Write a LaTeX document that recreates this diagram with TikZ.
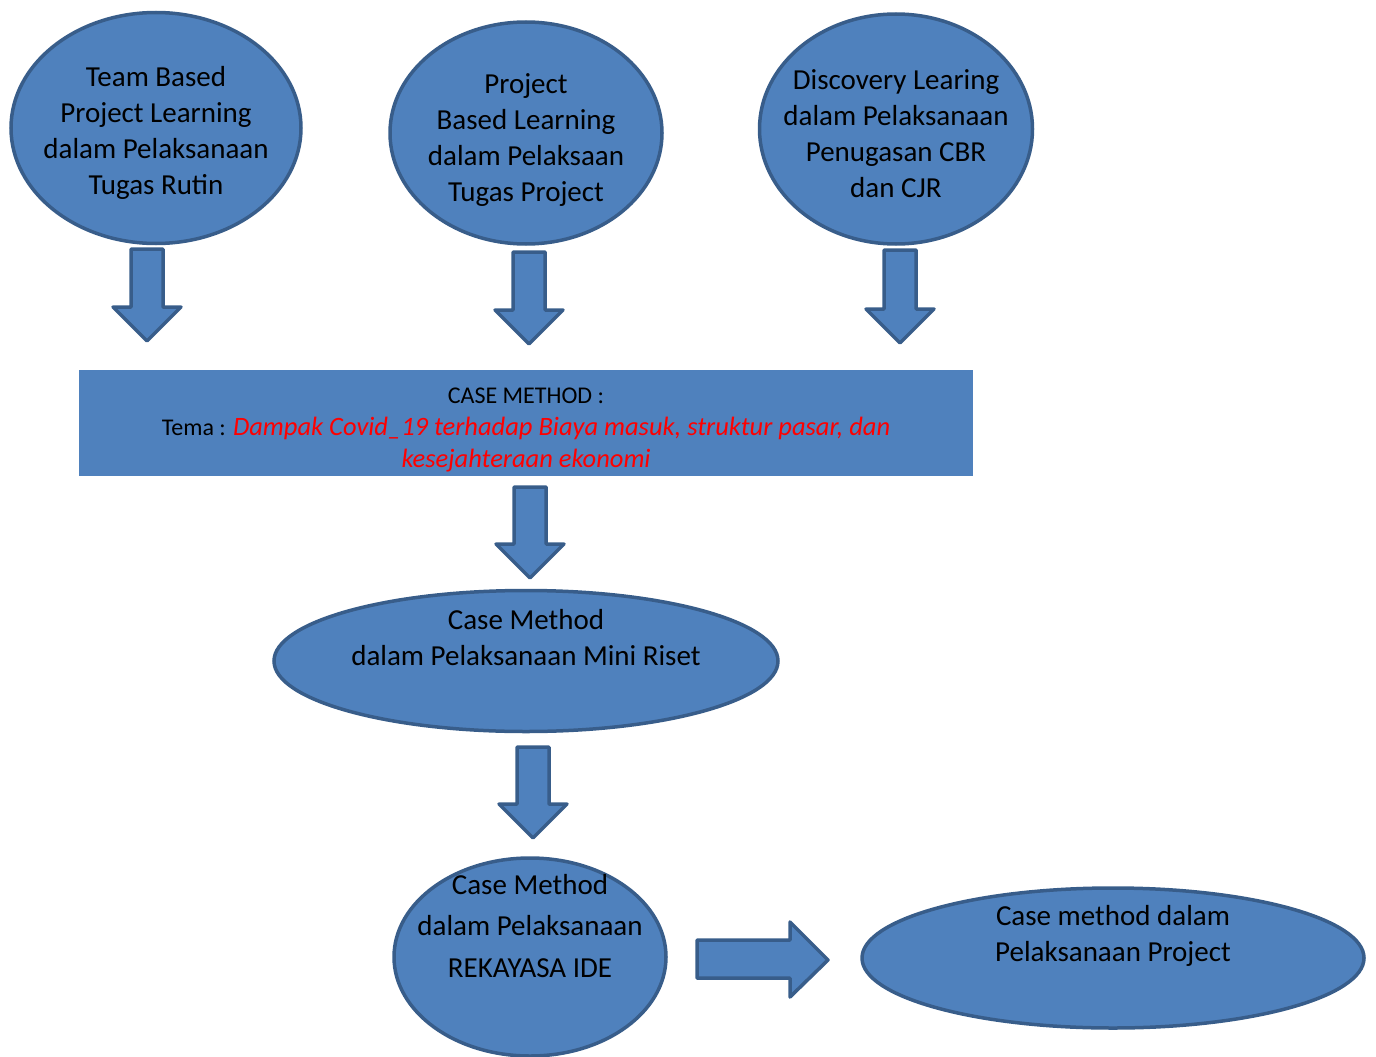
\documentclass[tikz,border=0pt]{standalone}
\usepackage{fontspec}
\setmainfont{Carlito}
\usetikzlibrary{shapes.geometric}
\definecolor{fillblue}{HTML}{4F81BD}
\definecolor{edgeblue}{HTML}{385D8A}
\definecolor{redtxt}{HTML}{FF0000}
\tikzset{
  x=1pt, y=-1pt,
  oval/.style={ellipse, draw=edgeblue, fill=fillblue, line width=3.5pt, inner sep=0pt},
  txt/.style={align=center, font=\fontsize{29}{36}\selectfont, inner sep=0pt, text=black},
  redit/.style={text=redtxt, font=\fontsize{26.5}{32}\selectfont\itshape},
  blockarrow/.style={draw=edgeblue, fill=fillblue, line width=3.5pt, line join=round},
  pics/darr/.style n args={1}{code={
    \draw[blockarrow] (-16,0) -- (16,0) -- (16,#1-34) -- (34,#1-34) -- (0,#1) -- (-34,#1-34) -- (-16,#1-34) -- cycle;
  }}
}
\begin{document}
\begin{tikzpicture}
\useasboundingbox (0,0) rectangle (1376,1057);
% top ellipses
\node[oval, minimum width=290, minimum height=231] (e1) at (156,128) {};
\node[txt] (t1) at (156,133) {Team Based\\Project Learning\\dalam Pelaksanaan\\Tugas Rutin};
\node[oval, minimum width=272, minimum height=222] (e2) at (526,133) {};
\node[txt] (t2) at (526,140) {Project\\Based Learning\\dalam Pelaksaan\\Tugas Project};
\node[oval, minimum width=273, minimum height=230] (e3) at (896,129) {};
\node[txt] (t3) at (896,134) {Discovery Learing\\dalam Pelaksanaan\\Penugasan CBR\\dan CJR};
% down arrows
\pic at (147,249) {darr={92}};
\pic at (529,252) {darr={92}};
\pic at (900,250) {darr={93}};
% case method box
\node[fill=fillblue, minimum width=894, minimum height=106, inner sep=0pt] (box) at (526,423) {};
\begin{scope}
\clip (box.north west) rectangle (box.south east);
\node[align=center, inner sep=0pt, font=\fontsize{24}{32}\selectfont] (boxtxt) at (526,430)
  {CASE METHOD :\\Tema : {\tikzset{}\color{redtxt}\fontsize{26.5}{32}\selectfont\itshape Dampak Covid\_19 terhadap Biaya masuk, struktur pasar, dan}\\
   {\color{redtxt}\fontsize{26.5}{32}\selectfont\itshape kesejahteraan ekonomi}};
\end{scope}
\pic at (530,487) {darr={91}};
% mini riset
\node[oval, minimum width=504, minimum height=141] (e4) at (526,661) {};
\node[txt] (t4) at (526,638) {Case Method\\dalam Pelaksanaan Mini Riset};
\pic at (533,747) {darr={91}};
% rekayasa ide
\node[oval, minimum width=272, minimum height=198] (e5) at (530,957) {};
\node[txt, font=\fontsize{29}{41.5}\selectfont] (t5) at (530,926) {Case Method\\dalam Pelaksanaan\\REKAYASA IDE};
% right arrow
\draw[blockarrow] (697,940) -- (790,940) -- (790,922) -- (828,960) -- (790,997) -- (790,978) -- (697,978) -- cycle;
% project
\node[oval, minimum width=502, minimum height=140] (e6) at (1113,958) {};
\node[txt] (t6) at (1113,936) {Case method dalam\\Pelaksanaan Project};
\end{tikzpicture}
\end{document}
